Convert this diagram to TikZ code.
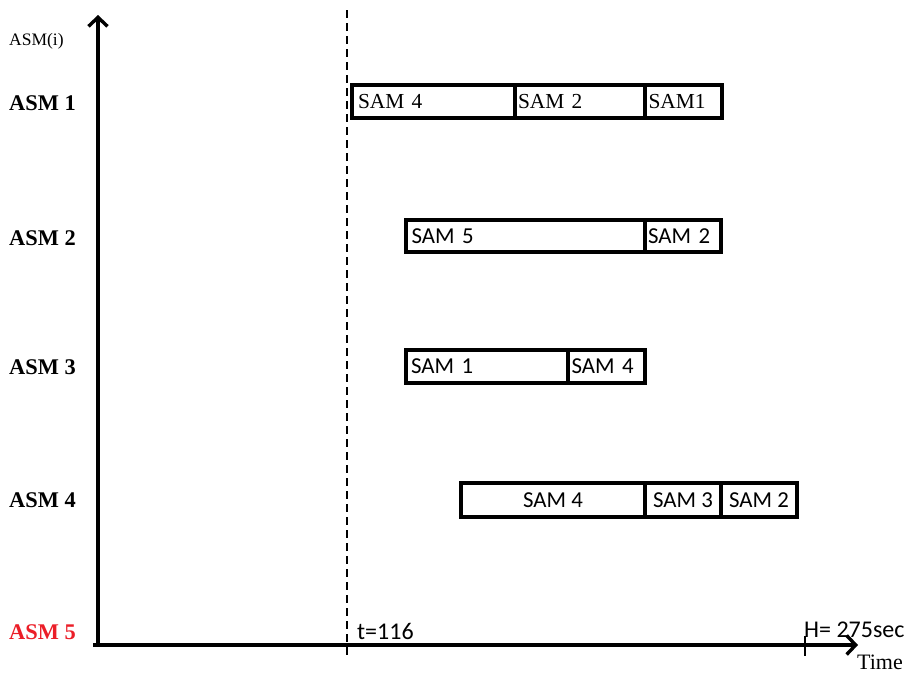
\documentclass[tikz,border=0pt]{standalone}
\usepackage{fontspec}
\setmainfont{Liberation Serif}
\newfontfamily\carlitofont{Carlito}
\usetikzlibrary{arrows.meta}
\definecolor{asmred}{RGB}{235,30,40}
\begin{document}
\begin{tikzpicture}[x=1pt,y=-1pt,
  seg/.style={draw,line width=3.2pt,inner sep=0pt,outer sep=0pt,anchor=north west},
  ser/.style={font=\fontsize{21.4}{23}\selectfont},
  sans/.style={font=\carlitofont\fontsize{22.8}{24}\selectfont},
  asm/.style={font=\bfseries\fontsize{22.4}{24}\selectfont,anchor=west,inner sep=0pt},
  axis/.style={line width=3.4pt,-{Straight Barb[length=9pt,width=19pt]}}]
\useasboundingbox (0,0) rectangle (913,675);
% axes
\coordinate (O) at (98,645);
\coordinate (ytop) at (98,15);
\coordinate (xend) at (858,645);
\coordinate (xstart) at (93,645);
\draw[axis] (xstart) -- (xend);
\draw[axis] (O) -- (ytop);
% dashed line
\coordinate (d1) at (347,10);
\coordinate (d2) at (347,657);
\draw[line width=1.8pt,dash pattern=on 8pt off 5pt] (d1) -- (d2);
% tick
\coordinate (t1) at (805,636);
\coordinate (t2) at (805,656);
\draw[line width=1.5pt] (t1) -- (t2);
% labels
\node[anchor=west,inner sep=0pt,font=\fontsize{17.5}{19}\selectfont] (ai) at (9,41) {ASM(i)};
\node[asm] (a1) at (9,103) {ASM 1};
\node[asm] (a2) at (9,238) {ASM 2};
\node[asm] (a3) at (9,367) {ASM 3};
\node[asm] (a4) at (9,500) {ASM 4};
\node[asm,text=asmred] (a5) at (9,632) {ASM 5};
\node[anchor=west,inner sep=0pt,font=\carlitofont\fontsize{24}{26}\selectfont] (t116) at (357,631) {t=116};
\node[anchor=west,inner sep=0pt,font=\carlitofont\fontsize{24}{26}\selectfont] (H) at (804,630) {H= 275sec};
\node[anchor=west,inner sep=0pt,font=\fontsize{22}{24}\selectfont] (time) at (857,662) {Time};
% row 1
\node[seg,minimum width=163pt,minimum height=33pt,ser,align=left,text width=155pt] (r1a) at (352,85) {\hspace*{2pt}SAM 4};
\node[seg,minimum width=130pt,minimum height=33pt,ser,text width=124pt] (r1b) at (515,85) {\hspace*{0pt}SAM 2};
\node[seg,minimum width=77pt,minimum height=33pt,ser,text width=72pt] (r1c) at (645,85) {\hspace*{1pt}SAM1};
% row 2
\node[seg,minimum width=239pt,minimum height=32pt,sans,text width=232pt] (r2a) at (406,220) {\hspace*{2pt}SAM 5};
\node[seg,minimum width=76pt,minimum height=32pt,sans,text width=72pt] (r2b) at (645,220) {\hspace*{1pt}SAM 2};
% row 3
\node[seg,minimum width=162pt,minimum height=33pt,sans,text width=156pt] (r3a) at (406,350) {\hspace*{2pt}SAM 1};
\node[seg,minimum width=77pt,minimum height=33pt,sans,text width=72pt] (r3b) at (568,350) {\hspace*{1pt}SAM 4};
% row 4
\node[seg,minimum width=184pt,minimum height=34pt,sans] (r4a) at (461,483) {SAM 4};
\node[seg,minimum width=76pt,minimum height=34pt,sans] (r4b) at (645,483) {SAM 3};
\node[seg,minimum width=76pt,minimum height=34pt,sans] (r4c) at (721,483) {SAM 2};
\end{tikzpicture}
\end{document}
